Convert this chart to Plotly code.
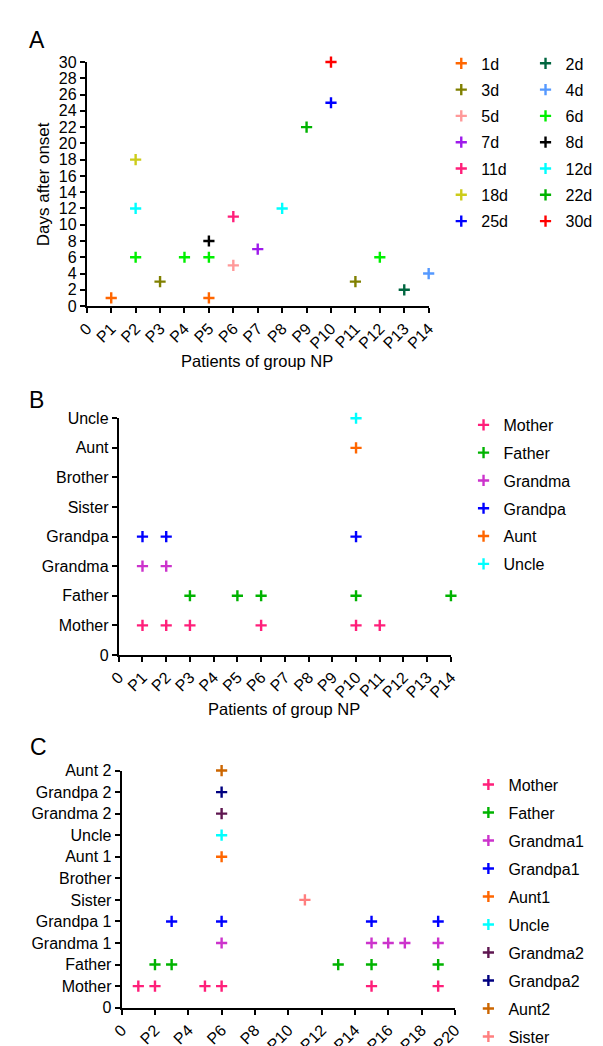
import plotly.graph_objects as go

W, H = 603, 1046
FONT = "Arial, Liberation Sans, Helvetica, sans-serif"

# ---------------- Panel A data ----------------
a_series = ["1d", "3d", "5d", "7d", "11d", "18d", "25d",
            "2d", "4d", "6d", "8d", "12d", "22d", "30d"]
a_patients = [[1, 5], [3, 11], [6], [7], [6], [2], [10],
              [13], [14], [2, 4, 5, 12], [5], [2, 8], [9], [10]]
a_days = [[1, 1], [3, 3], [5], [7], [11], [18], [25],
          [2], [4], [6, 6, 6, 6], [8], [12, 12], [22], [30]]
a_colors = ["#FF6600", "#808000", "#FF9999", "#9E1AEB", "#FF1F7A", "#CCCC1A", "#0000FF",
            "#006640", "#5599FF", "#00F000", "#000000", "#00FFFF", "#00B300", "#FF0000"]
a_xticks = ["0"] + [f"P{i}" for i in range(1, 15)]

# ---------------- Panel B data ----------------
b_series = ["Mother", "Father", "Grandma", "Grandpa", "Aunt", "Uncle"]
b_patients = [[1, 2, 3, 6, 10, 11], [3, 5, 6, 10, 14], [1, 2], [1, 2, 10], [10], [10]]
b_colors = ["#FF1F7A", "#00B300", "#CC33CC", "#0000FF", "#FF6600", "#00FFFF"]
b_yticks = ["0", "Mother", "Father", "Grandma", "Grandpa", "Sister", "Brother", "Aunt", "Uncle"]
b_xticks = ["0"] + [f"P{i}" for i in range(1, 15)]

# ---------------- Panel C data ----------------
c_series = ["Mother", "Father", "Grandma1", "Grandpa1", "Aunt1",
            "Uncle", "Grandma2", "Grandpa2", "Aunt2", "Sister"]
c_rows = ["Mother", "Father", "Grandma 1", "Grandpa 1", "Aunt 1",
          "Uncle", "Grandma 2", "Grandpa 2", "Aunt 2", "Sister"]
c_patients = [[1, 2, 5, 6, 15, 19], [2, 3, 13, 15, 19], [6, 15, 16, 17, 19], [3, 6, 15, 19],
              [6], [6], [6], [6], [6], [11]]
c_colors = ["#FF1F7A", "#00B300", "#CC33CC", "#0000FF", "#FF6600",
            "#00FFFF", "#5E1650", "#000080", "#CC6600", "#FF7F7F"]
c_yticks = ["0", "Mother", "Father", "Grandma 1", "Grandpa 1", "Sister", "Brother",
            "Aunt 1", "Uncle", "Grandma 2", "Grandpa 2", "Aunt 2"]
c_xticks = ["0"] + [f"P{i}" for i in range(2, 21, 2)]


def X(p):
    return p / W


def Y(p):
    return 1 - p / H


def marker(color):
    return dict(symbol="cross-thin", size=8, line=dict(color=color, width=2.4))


fig = go.Figure()

# Panel A traces (two legend columns)
for i, (name, xs, ys, col) in enumerate(zip(a_series, a_patients, a_days, a_colors)):
    fig.add_trace(go.Scatter(
        x=xs, y=ys, mode="markers", name=name, marker=marker(col),
        xaxis="x", yaxis="y", cliponaxis=False,
        legend="legend" if i < 7 else "legend2", legendgroup=f"a{i}"))

# Panel B traces
for i, (name, xs, col) in enumerate(zip(b_series, b_patients, b_colors)):
    fig.add_trace(go.Scatter(
        x=xs, y=[name] * len(xs), mode="markers", name=name, marker=marker(col),
        xaxis="x2", yaxis="y2", cliponaxis=False, legend="legend3", legendgroup=f"b{i}"))

# Panel C traces
for i, (name, row, xs, col) in enumerate(zip(c_series, c_rows, c_patients, c_colors)):
    fig.add_trace(go.Scatter(
        x=xs, y=[row] * len(xs), mode="markers", name=name, marker=marker(col),
        xaxis="x3", yaxis="y3", cliponaxis=False, legend="legend4", legendgroup=f"c{i}"))

axis_common = dict(showline=True, linecolor="black", linewidth=2, ticks="outside",
                   ticklen=5, tickwidth=2, tickcolor="black", showgrid=False, zeroline=False,
                   tickfont=dict(family=FONT, size=16, color="black"), fixedrange=True)

legend_common = dict(font=dict(family=FONT, size=16, color="black"), bgcolor="rgba(0,0,0,0)",
                     xanchor="left", yanchor="top", itemclick=False)

fig.update_layout(
    width=W, height=H, margin=dict(l=0, r=0, t=0, b=0),
    paper_bgcolor="white", plot_bgcolor="white",
    font=dict(family=FONT, size=16, color="black"),
    xaxis=dict(domain=[X(70), X(423)], anchor="y", range=[0, 14],
               tickvals=list(range(15)), ticktext=a_xticks, tickangle=-45, **axis_common),
    yaxis=dict(domain=[Y(296), Y(47)], anchor="x", range=[0, 30],
               tickvals=list(range(0, 31, 2)), **axis_common),
    xaxis2=dict(domain=[X(103), X(446)], anchor="y2", range=[0, 14],
                tickvals=list(range(15)), ticktext=b_xticks, tickangle=-45, **axis_common),
    yaxis2=dict(domain=[Y(652), Y(410.5)], anchor="x2", type="category",
                categoryarray=b_yticks, categoryorder="array", range=[0, 8],
                tickvals=b_yticks, **axis_common),
    xaxis3=dict(domain=[X(106), X(450)], anchor="y3", range=[0, 20],
                tickvals=list(range(0, 21, 2)), ticktext=c_xticks, tickangle=-45, **axis_common),
    yaxis3=dict(domain=[Y(1012), Y(770)], anchor="x3", type="category",
                categoryarray=c_yticks, categoryorder="array", range=[0, 11],
                tickvals=c_yticks, **axis_common),
    legend=dict(x=X(436), y=Y(31), tracegroupgap=2.5, **legend_common),
    legend2=dict(x=X(523), y=Y(31), tracegroupgap=2.5, **legend_common),
    legend3=dict(x=X(459), y=Y(400), tracegroupgap=4, **legend_common),
    legend4=dict(x=X(464), y=Y(767), tracegroupgap=4.2, **legend_common),
    showlegend=True,
)

ann = [
    dict(text="A", x=X(8), y=Y(24), xanchor="left", yanchor="middle", font=dict(size=23)),
    dict(text="B", x=X(8), y=Y(392), xanchor="left", yanchor="middle", font=dict(size=23)),
    dict(text="C", x=X(9), y=Y(746), xanchor="left", yanchor="middle", font=dict(size=23)),
    dict(text="Days after onset", x=X(25), y=Y(171.5), textangle=-90,
         xanchor="center", yanchor="middle", font=dict(size=17)),
    dict(text="Patients of group NP", x=X(246), y=Y(352), xanchor="center",
         yanchor="middle", font=dict(size=16.5)),
    dict(text="Patients of group NP", x=X(274), y=Y(707), xanchor="center",
         yanchor="middle", font=dict(size=16.5)),
]
for a in ann:
    a.update(xref="paper", yref="paper", showarrow=False)
    a["font"] = dict(family=FONT, color="black", **a["font"])
fig.update_layout(annotations=ann)

fig.write_html("out.html")
